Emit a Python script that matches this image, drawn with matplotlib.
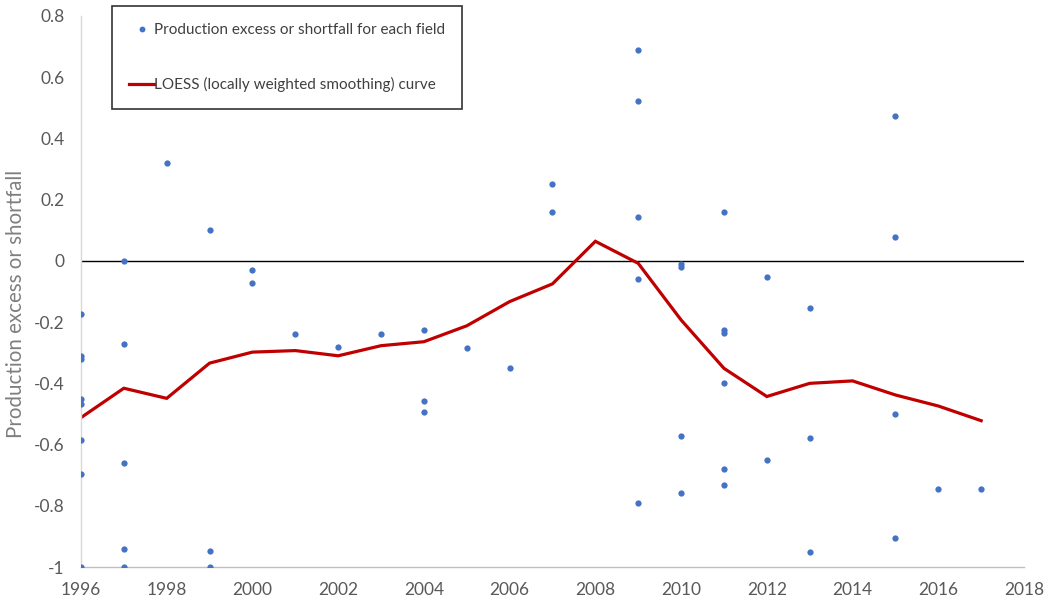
import matplotlib
matplotlib.use("Agg")
import matplotlib.pyplot as plt
from matplotlib.lines import Line2D

# Per-field production excess/shortfall, by start-up year
field_years = [
    1996, 1996, 1996, 1996, 1996, 1996, 1996, 1996,
    1997, 1997, 1997, 1997, 1997,
    1998,
    1999, 1999, 1999,
    2000, 2000,
    2001, 2002, 2003,
    2004, 2004, 2004,
    2005, 2006,
    2007, 2007,
    2009, 2009, 2009, 2009, 2009,
    2010, 2010, 2010, 2010,
    2011, 2011, 2011, 2011, 2011, 2011,
    2012, 2012,
    2013, 2013, 2013,
    2015, 2015, 2015, 2015,
    2016, 2017,
]
field_values = [
    -0.174, -0.31, -0.32, -0.452, -0.467, -0.585, -0.696, -1.0,
    0.0, -0.27, -0.66, -0.94, -1.0,
    0.32,
    0.10, -0.947, -1.0,
    -0.03, -0.073,
    -0.24, -0.28, -0.24,
    -0.225, -0.458, -0.494,
    -0.285, -0.351,
    0.25, 0.16,
    0.69, 0.523, 0.142, -0.06, -0.79,
    -0.01, -0.02, -0.572, -0.757,
    0.16, -0.225, -0.236, -0.40, -0.68, -0.732,
    -0.053, -0.65,
    -0.155, -0.577, -0.952,
    0.474, 0.078, -0.50, -0.904,
    -0.744, -0.744,
]

# LOESS (locally weighted smoothing) curve
loess_years = list(range(1996, 2018))
loess_values = [
    -0.512, -0.416, -0.449, -0.334, -0.298, -0.293, -0.310, -0.277,
    -0.264, -0.212, -0.133, -0.075, 0.064, -0.008, -0.193, -0.351,
    -0.443, -0.400, -0.392, -0.438, -0.474, -0.522,
]

x_ticks = list(range(1996, 2019, 2))
y_ticks = [0.8, 0.6, 0.4, 0.2, 0, -0.2, -0.4, -0.6, -0.8, -1]
y_tick_labels = ["0.8", "0.6", "0.4", "0.2", "0", "-0.2", "-0.4", "-0.6", "-0.8", "-1"]

plt.rcParams["font.family"] = ["Lato", "DejaVu Sans"]

fig = plt.figure(figsize=(10.46, 6.08), dpi=100)
ax = fig.add_axes([0.0774, 0.0674, 0.9016, 0.9063])

point_color = "#4472C4"
line_color = "#C00000"
text_gray = "#595959"

ax.axhline(0, color="black", lw=1.0, zorder=1)
ax.plot(loess_years, loess_values, color=line_color, lw=2.3, zorder=2,
        solid_joinstyle="miter")
ax.plot(field_years, field_values, linestyle="none", marker="o",
        markersize=4.5, color=point_color, markeredgewidth=0, zorder=3)

ax.set_xlim(1996, 2018)
ax.set_ylim(-1, 0.8)
ax.set_xticks(x_ticks)
ax.set_xticklabels([str(t) for t in x_ticks])
ax.set_yticks(y_ticks)
ax.set_yticklabels(y_tick_labels)
ax.tick_params(axis="both", length=0, labelsize=12.5, colors=text_gray)
ax.tick_params(axis="x", pad=11)
ax.tick_params(axis="y", pad=12)

for side in ("top", "right"):
    ax.spines[side].set_visible(False)
ax.spines["left"].set_color("#D9D9D9")
ax.spines["left"].set_linewidth(1.0)
ax.spines["bottom"].set_color("#BFBFBF")
ax.spines["bottom"].set_linewidth(1.0)

fig.text(0.015, 0.5, "Production excess or shortfall", rotation=90,
         ha="center", va="center", fontsize=14.8, color="#7F7F7F")

handles = [
    Line2D([], [], linestyle="none", marker="o", markersize=4.2,
           color=point_color, markeredgewidth=0),
    Line2D([], [], color=line_color, lw=2.3),
]
labels = [
    "Production excess or shortfall for each field",
    "LOESS (locally weighted smoothing) curve",
]
leg = ax.legend(handles, labels, loc="upper left",
                bbox_to_anchor=(0.0333, 1.018), fontsize=11,
                frameon=True, fancybox=False, edgecolor="black",
                labelspacing=2.65, handlelength=1.65, handletextpad=0.0,
                borderpad=1.1, borderaxespad=0)
leg.get_frame().set_linewidth(1.2)
for t in leg.get_texts():
    t.set_color("#404040")

fig.savefig("out.png", dpi=100, facecolor="white")
